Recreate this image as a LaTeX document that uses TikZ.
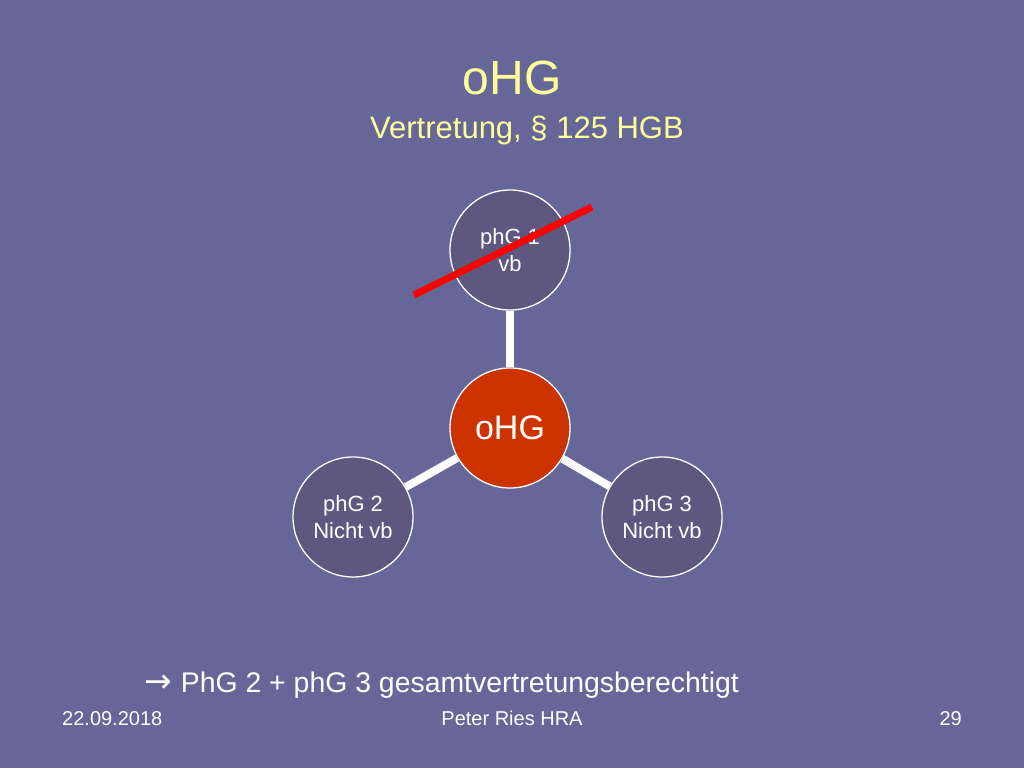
\documentclass[tikz,border=0pt]{standalone}
\usepackage{fontspec}
\setmainfont{Liberation Sans}
\newfontfamily\djv{DejaVu Sans}
\definecolor{bgc}{HTML}{666699}
\definecolor{circc}{HTML}{5E5780}
\definecolor{redc}{HTML}{CC3300}
\definecolor{titlec}{HTML}{FFFF99}
\definecolor{strikec}{HTML}{FF0000}
\pgfdeclarelayer{behind}
\pgfsetlayers{behind,main}
\tikzset{
  member/.style={circle, draw=white, line width=1.3pt, fill=circc, minimum size=120pt, inner sep=0pt, text=white, align=center, font=\fontsize{22}{27}\selectfont},
  hub/.style={circle, draw=white, line width=1.3pt, fill=redc, minimum size=120pt, inner sep=0pt, text=white, font=\fontsize{34}{34}\selectfont},
  link/.style={white, line width=8pt},
  strike/.style={strikec, line width=7pt},
  plain/.style={text=white, inner sep=0pt}
}
\begin{document}
\begin{tikzpicture}[x=1pt,y=-1pt]
\begin{pgfonlayer}{behind}
\fill[bgc] (0,0) rectangle (1024,768);
\end{pgfonlayer}
\useasboundingbox (0,0) rectangle (1024,768);
% title
\node[anchor=base, text=titlec, inner sep=0pt, font=\fontsize{48}{48}\selectfont] (t1) at (512,94) {oHG};
\node[anchor=base, text=titlec, inner sep=0pt, font=\fontsize{31}{31}\selectfont] (t2) at (527,138) {Vertretung, § 125 HGB};
% nodes
\node[hub] (c) at (510,428) {oHG};
\node[member] (p1) at (510,250) {phG 1\\vb};
\node[member] (p2) at (353,517) {phG 2\\Nicht vb};
\node[member] (p3) at (662,517) {phG 3\\Nicht vb};
% connectors behind the circles
\begin{pgfonlayer}{behind}
\draw[link] (c) -- (p1);
\draw[link] (c) -- (p2);
\draw[link] (c) -- (p3);
\end{pgfonlayer}
% strike line
\coordinate (s1) at (414,295);
\coordinate (s2) at (592,207);
\draw[strike] (s1) -- (s2);
% bottom text
\node[plain, anchor=base west, font=\fontsize{28.4}{28.4}\selectfont] (b) at (144,692) {{\djv\fontsize{33}{33}\selectfont →}\hspace{9pt}PhG 2 + phG 3 gesamtvertretungsberechtigt};
% footer
\node[plain, anchor=base west, font=\fontsize{20}{20}\selectfont] (f1) at (62,725) {22.09.2018};
\node[plain, anchor=base, font=\fontsize{20}{20}\selectfont] (f2) at (512,725) {Peter Ries HRA};
\node[plain, anchor=base east, font=\fontsize{20}{20}\selectfont] (f3) at (962,725) {29};
\end{tikzpicture}
\end{document}
